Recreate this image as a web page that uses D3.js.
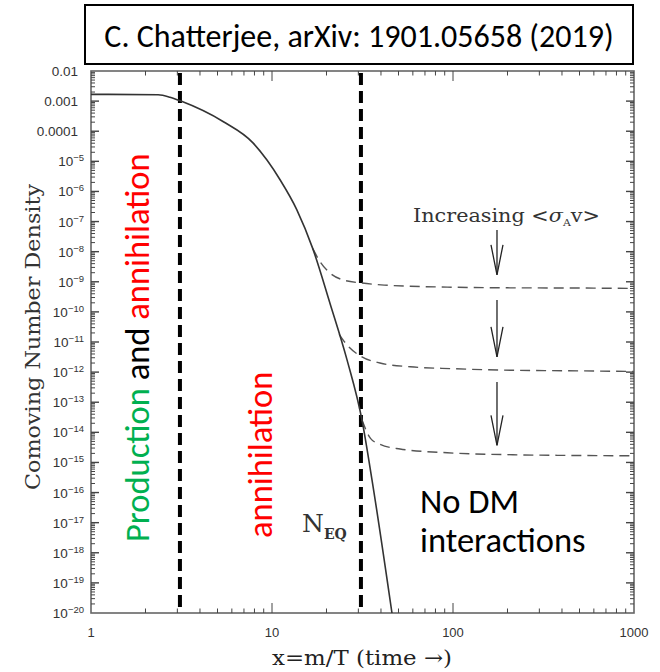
<!DOCTYPE html>
<html>
<head>
<meta charset="utf-8">
<script src="https://cdn.jsdelivr.net/npm/d3@7"></script>
<style>
  html, body { margin: 0; padding: 0; background: #fff; }
  svg { display: block; }
</style>
</head>
<body>
<svg id="chart" width="660" height="672"></svg>
<script>
// Comoving number density of a thermal relic versus x = m/T

// Equilibrium abundance (solid line)
const eqX = [1, 2.35, 2.73, 3.14, 5.36, 7.85, 9.38, 11.1, 13.7, 16.8, 20.9, 26.0, 31.4, 35.7, 46.0];
const eqY = [1.68e-3, 1.62e-3, 1.35e-3, 1.0e-3, 2.1e-4, 4.1e-5, 1.1e-5, 2.4e-6, 2.5e-7, 1.26e-8, 1.95e-10, 2.5e-12, 2.6e-14, 2.6e-16, 1e-20];

// Freeze-out abundances for increasing annihilation cross section (dashed lines)
const fo1X = [16.8, 18.5, 20.9, 24.7, 31.4, 40, 58, 100, 200, 500, 1000];
const fo1Y = [1.26e-8, 4.5e-9, 1.95e-9, 1.15e-9, 9.1e-10, 7.9e-10, 7.1e-10, 6.6e-10, 6.3e-10, 6.2e-10, 6.0e-10];
const fo2X = [23.5, 26, 31.4, 39.5, 58, 100, 182, 500, 1000];
const fo2Y = [1.8e-11, 7.9e-12, 3.2e-12, 2.0e-12, 1.5e-12, 1.3e-12, 1.17e-12, 1.1e-12, 1.05e-12];
const fo3X = [31.4, 35, 39.5, 51, 93, 214, 500, 1000];
const fo3Y = [2.6e-14, 6.3e-15, 4.0e-15, 2.8e-15, 2.1e-15, 1.8e-15, 1.7e-15, 1.66e-15];

// Regime boundaries (vertical dashed lines)
const boundaryX = [3.1, 31];

// "Increasing <σv>" arrows
const arrowX = 175;
const arrowFrom = [5.2e-8, 2.5e-10, 4.7e-13];
const arrowTo = [1.7e-9, 3.2e-12, 3.7e-15];

// Axis ticks
const xTickValues = [1, 10, 100, 1000];
const xTickLabels = ["1", "10", "100", "1000"];
const yExponents = d3.range(-2, -21, -1);

const svg = d3.select("#chart");
const plotLeft = 91, plotRight = 634, plotTop = 71, plotBottom = 613;

const x = d3.scaleLog().domain([1, 1000]).range([plotLeft, plotRight]);
const y = d3.scaleLog().domain([1e-20, 1e-2]).range([plotBottom, plotTop]);

// Title box
svg.append("rect")
  .attr("x", 85).attr("y", 5).attr("width", 548).attr("height", 59)
  .attr("fill", "#fff").attr("stroke", "#000").attr("stroke-width", 2);
svg.append("text")
  .attr("x", 359).attr("y", 47)
  .attr("text-anchor", "middle")
  .attr("font-family", "Carlito, 'Open Sans', sans-serif")
  .attr("font-size", 32)
  .attr("fill", "#000")
  .text("C. Chatterjee, arXiv: 1901.05658 (2019)");

// Frame
const frameColor = "#666";
svg.append("rect")
  .attr("x", plotLeft).attr("y", plotTop)
  .attr("width", plotRight - plotLeft).attr("height", plotBottom - plotTop)
  .attr("fill", "none").attr("stroke", frameColor).attr("stroke-width", 1.6);

// Log ticks on all four sides
const ticks = svg.append("g").attr("stroke", "#444").attr("stroke-width", 1);
function minorValues(lo, hi) {
  const out = [];
  for (let e = lo; e < hi; e++) for (let m = 2; m <= 9; m++) out.push(m * Math.pow(10, e));
  return out;
}
const xMajor = xTickValues.slice(1, -1);
const xMinor = minorValues(0, 3);
[[plotBottom, -1], [plotTop, 1]].forEach(([yy, dir]) => {
  ticks.selectAll(null).data(xMajor).enter().append("line")
    .attr("x1", d => x(d)).attr("x2", d => x(d))
    .attr("y1", yy).attr("y2", yy + dir * 10);
  ticks.selectAll(null).data(xMinor).enter().append("line")
    .attr("x1", d => x(d)).attr("x2", d => x(d))
    .attr("y1", yy).attr("y2", yy + dir * 4.5);
});
const yMajor = yExponents.slice(1, -1).map(e => Math.pow(10, e));
const yMinor = minorValues(-20, -2);
[[plotLeft, 1], [plotRight, -1]].forEach(([xx, dir]) => {
  ticks.selectAll(null).data(yMajor).enter().append("line")
    .attr("x1", xx).attr("x2", xx + dir * 8)
    .attr("y1", d => y(d)).attr("y2", d => y(d))
    .attr("stroke-width", 1.4);
  ticks.selectAll(null).data(yMinor).enter().append("line")
    .attr("x1", xx).attr("x2", xx + dir * 4)
    .attr("y1", d => y(d)).attr("y2", d => y(d));
});

// Tick labels
const tickFont = "'Liberation Sans', Arial, sans-serif";
svg.append("g").selectAll("text").data(xTickValues).enter().append("text")
  .attr("x", d => x(d)).attr("y", 637)
  .attr("text-anchor", "middle")
  .attr("font-family", tickFont).attr("font-size", 13).attr("fill", "#333")
  .text((d, i) => xTickLabels[i]);

const yLab = svg.append("g").attr("font-family", tickFont).attr("fill", "#333");
yExponents.forEach(e => {
  const t = yLab.append("text")
    .attr("y", y(Math.pow(10, e)) + 5)
    .attr("text-anchor", "end")
    .attr("font-size", 13.5);
  if (e >= -4) {
    t.attr("x", 78).text(Math.pow(10, e).toFixed(-e));
  } else {
    t.attr("x", 84);
    t.append("tspan").text("10");
    t.append("tspan").attr("font-size", 9.5).attr("dy", -5).text("\u2212" + (-e));
  }
});

// Axis titles
const serif = "'DejaVu Serif', serif";
svg.append("text")
  .attr("transform", "translate(40,337) rotate(-90)")
  .attr("text-anchor", "middle")
  .attr("font-family", serif).attr("font-size", 20.5).attr("fill", "#333")
  .attr("textLength", 306).attr("lengthAdjust", "spacingAndGlyphs")
  .text("Comoving Number Density");
svg.append("text")
  .attr("x", 362).attr("y", 665)
  .attr("text-anchor", "middle")
  .attr("font-family", serif).attr("font-size", 21).attr("fill", "#222")
  .attr("textLength", 180).attr("lengthAdjust", "spacingAndGlyphs")
  .text("x=m/T (time \u2192)");

// Regime boundaries
svg.append("g").selectAll("line").data(boundaryX).enter().append("line")
  .attr("x1", d => x(d)).attr("x2", d => x(d))
  .attr("y1", plotTop + 2).attr("y2", plotBottom)
  .attr("stroke", "#000").attr("stroke-width", 4)
  .attr("stroke-dasharray", "12,6");

// Curves
const line = d3.line().curve(d3.curveMonotoneX);
const pts = (xs, ys) => xs.map((v, i) => [x(v), y(ys[i])]);
[[fo1X, fo1Y], [fo2X, fo2Y], [fo3X, fo3Y]].forEach(([xs, ys]) => {
  svg.append("path")
    .attr("d", line(pts(xs, ys)))
    .attr("fill", "none").attr("stroke", "#555").attr("stroke-width", 1.4)
    .attr("stroke-dasharray", "10,6");
});
svg.append("path")
  .attr("d", line(pts(eqX, eqY)))
  .attr("fill", "none").attr("stroke", "#333").attr("stroke-width", 1.6);

// Arrows
const arrows = svg.append("g").attr("stroke", "#222").attr("stroke-width", 1.3).attr("fill", "none");
arrowFrom.forEach((v, i) => {
  const ax = x(arrowX), y0 = y(v), y1 = y(arrowTo[i]);
  arrows.append("line").attr("x1", ax).attr("x2", ax).attr("y1", y0).attr("y2", y1);
  arrows.append("path").attr("d", `M${ax - 6},${y1 - 30}L${ax},${y1}L${ax + 6},${y1 - 30}`);
});
const inc = svg.append("text")
  .attr("x", 413).attr("y", 222)
  .attr("font-family", serif).attr("font-size", 19).attr("fill", "#333")
  .attr("textLength", 187).attr("lengthAdjust", "spacingAndGlyphs");
inc.append("tspan").text("Increasing <");
inc.append("tspan").attr("font-style", "italic").text("\u03c3");
inc.append("tspan").attr("font-size", 10).attr("dy", 4).text("A");
inc.append("tspan").attr("dy", -4).text("v>");

// N_EQ label
const neq = svg.append("text")
  .attr("x", 302).attr("y", 532)
  .attr("font-family", serif).attr("fill", "#333");
neq.append("tspan").attr("font-size", 25).text("N");
neq.append("tspan").attr("font-size", 14).attr("font-weight", "bold").attr("dy", 7).text("EQ");

// Regime annotations
const sans = "Carlito, 'Open Sans', sans-serif";
const reg1 = svg.append("text")
  .attr("transform", "translate(149,542) rotate(-90)")
  .attr("font-family", sans).attr("font-size", 34.5);
reg1.append("tspan").attr("fill", "#00b050").text("Production ");
reg1.append("tspan").attr("fill", "#000").text("and ");
reg1.append("tspan").attr("fill", "#ff0000").text("annihilation");

svg.append("text")
  .attr("transform", "translate(272,538) rotate(-90)")
  .attr("font-family", sans).attr("font-size", 34.5).attr("fill", "#ff0000")
  .text("annihilation");

const nodm = svg.append("text")
  .attr("font-family", sans).attr("font-size", 34.5).attr("fill", "#000");
nodm.append("tspan").attr("x", 420).attr("y", 513).text("No DM");
nodm.append("tspan").attr("x", 420).attr("y", 552).text("interactions");
</script>
</body>
</html>
